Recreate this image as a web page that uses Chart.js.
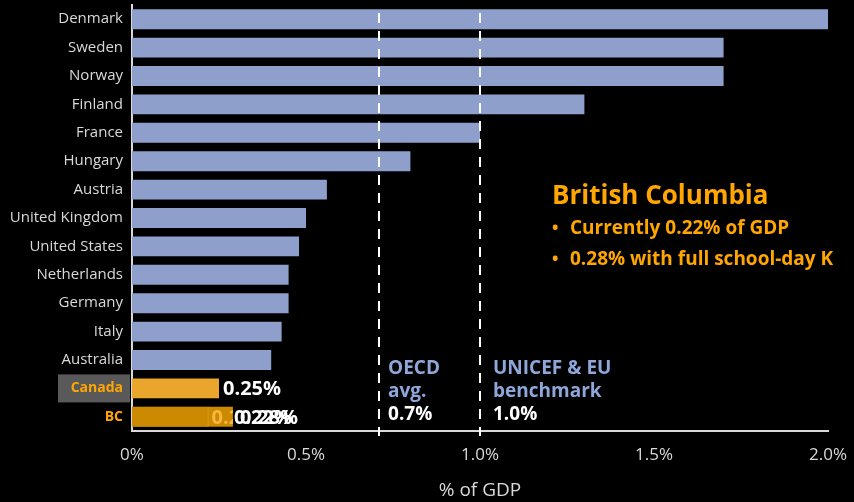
<!DOCTYPE html>
<html>
<head>
<meta charset="utf-8">
<script src="https://cdn.jsdelivr.net/npm/chart.js@4"></script>
<style>
  html, body { margin: 0; padding: 0; background: #000; }
  #wrap { width: 854px; height: 502px; }
</style>
</head>
<body>
<div id="wrap"><canvas id="gdpChart" width="854" height="502"></canvas></div>
<script>
// data
const countries = ['Denmark', 'Sweden', 'Norway', 'Finland', 'France', 'Hungary', 'Austria',
    'United Kingdom', 'United States', 'Netherlands', 'Germany', 'Italy', 'Australia', 'Canada', 'BC'];
const spending = [2.0, 1.7, 1.7, 1.3, 1.0, 0.8, 0.56, 0.5, 0.48, 0.45, 0.45, 0.43, 0.4, 0.25, 0.29];
const bcCurrent = 0.22;
const oecdAvg = 0.71;
const benchmark = 1.0;
const xTicks = [0, 0.5, 1.0, 1.5, 2.0];
const xTickLabels = ['0%', '0.5%', '1.0%', '1.5%', '2.0%'];

const FONT = '"Open Sans", sans-serif';
const BLUE = '#8f9fcb';
const ORANGE = '#ffa600';
const GREY = '#d9d9d9';

const barColors = countries.map(c => c === 'Canada' ? '#eaa62c' : (c === 'BC' ? '#cc8a00' : BLUE));

const overlay = {
    id: 'overlay',
    beforeDraw(chart) {
        const ctx = chart.ctx;
        const y = chart.scales.y;
        const i = countries.indexOf('Canada');
        const cy = y.getPixelForValue(i);
        ctx.save();
        ctx.fillStyle = '#595959';
        ctx.fillRect(58, cy - 14, chart.chartArea.left - 60, 28);
        ctx.restore();
    },
    afterDatasetsDraw(chart) {
        const ctx = chart.ctx;
        const x = chart.scales.x;
        const y = chart.scales.y;
        const area = chart.chartArea;
        ctx.save();

        // reference lines
        ctx.strokeStyle = '#ffffff';
        ctx.lineWidth = 2;
        ctx.setLineDash([10, 8]);
        [oecdAvg, benchmark].forEach(v => {
            const px = Math.round(x.getPixelForValue(v));
            ctx.beginPath();
            ctx.moveTo(px, area.top + 8);
            ctx.lineTo(px, area.bottom + 5);
            ctx.stroke();
        });
        ctx.setLineDash([]);

        ctx.textBaseline = 'middle';
        ctx.textAlign = 'left';

        // value labels
        const ci = countries.indexOf('Canada');
        const bi = countries.indexOf('BC');
        ctx.font = 'bold 20px ' + FONT;
        ctx.fillStyle = '#ffffff';
        ctx.fillText('0.25%', x.getPixelForValue(spending[ci]) + 4, y.getPixelForValue(ci) + 1);

        const bcEnd = x.getPixelForValue(spending[bi]);
        ctx.save();
        ctx.beginPath();
        ctx.rect(0, 0, bcEnd, chart.height);
        ctx.clip();
        ctx.fillStyle = '#f7b640';
        ctx.fillText('0.22%', x.getPixelForValue(bcCurrent) + 3, y.getPixelForValue(bi) + 1);
        ctx.restore();
        ctx.fillStyle = '#ffffff';
        ctx.fillText('0.22%', bcEnd + 1, y.getPixelForValue(bi) + 1);
        ctx.fillText('0.28%', bcEnd + 7, y.getPixelForValue(bi) + 1);

        // reference line captions
        ctx.font = 'bold 19px ' + FONT;
        const lx1 = x.getPixelForValue(oecdAvg) + 9;
        const lx2 = x.getPixelForValue(benchmark) + 13;
        ctx.fillStyle = '#8fa6d9';
        ctx.fillText('OECD', lx1, 369);
        ctx.fillText('avg.', lx1, 392);
        ctx.fillText('UNICEF & EU', lx2, 369);
        ctx.fillText('benchmark', lx2, 392);
        ctx.fillStyle = '#ffffff';
        ctx.fillText('0.7%', lx1, 415);
        ctx.fillText('1.0%', lx2, 415);

        // BC callout
        ctx.fillStyle = ORANGE;
        ctx.font = 'bold 26px ' + FONT;
        ctx.fillText('British Columbia', 552, 197);
        ctx.font = 'bold 17px ' + FONT;
        ctx.fillText('\u2022', 552, 229);
        ctx.fillText('\u2022', 552, 260);
        ctx.font = 'bold 19px ' + FONT;
        ctx.fillText('Currently 0.22% of GDP', 570, 229);
        ctx.fillText('0.28% with full school-day K', 570, 260);
        ctx.restore();
    }
};

new Chart(document.getElementById('gdpChart'), {
    type: 'bar',
    data: {
        labels: countries,
        datasets: [{
            data: spending,
            backgroundColor: barColors,
            categoryPercentage: 1,
            barPercentage: 0.7,
            grouped: false,
            order: 2
        }, {
            data: countries.map(c => c === 'BC' ? bcCurrent : null),
            backgroundColor: '#cc8a00',
            borderColor: '#e8a530',
            borderWidth: { right: 1, left: 0, top: 0, bottom: 0 },
            borderSkipped: false,
            categoryPercentage: 1,
            barPercentage: 0.7,
            grouped: false,
            order: 1
        }]
    },
    options: {
        indexAxis: 'y',
        responsive: false,
        animation: false,
        layout: { padding: { top: 5, right: 26, left: 0, bottom: 0 } },
        plugins: {
            legend: { display: false },
            tooltip: { enabled: false }
        },
        scales: {
            x: {
                min: 0,
                max: 2.0,
                afterBuildTicks: s => { s.ticks = xTicks.map(v => ({ value: v })); },
                afterFit: s => { s.height = 71; s.paddingLeft = 0; s.paddingRight = 0; },
                grid: { display: false },
                border: { display: true, color: GREY, width: 2 },
                ticks: {
                    color: GREY,
                    padding: 6,
                    font: { family: FONT, size: 17 },
                    callback: (v, i) => xTickLabels[i]
                },
                title: {
                    display: true,
                    text: '% of GDP',
                    color: GREY,
                    font: { family: FONT, size: 19 },
                    padding: { top: 6, bottom: 0 }
                }
            },
            y: {
                afterFit: s => { s.width = 132; s.paddingTop = 0; s.paddingBottom = 0; },
                grid: { display: false },
                border: { display: true, color: GREY, width: 2 },
                ticks: {
                    autoSkip: false,
                    padding: 1,
                    color: ctx => ctx.index >= 13 ? ORANGE : GREY,
                    font: ctx => ({ family: FONT, size: ctx.index >= 13 ? 14 : 15, weight: ctx.index >= 13 ? 'bold' : 'normal' })
                }
            }
        }
    },
    plugins: [overlay]
});
</script>
</body>
</html>
